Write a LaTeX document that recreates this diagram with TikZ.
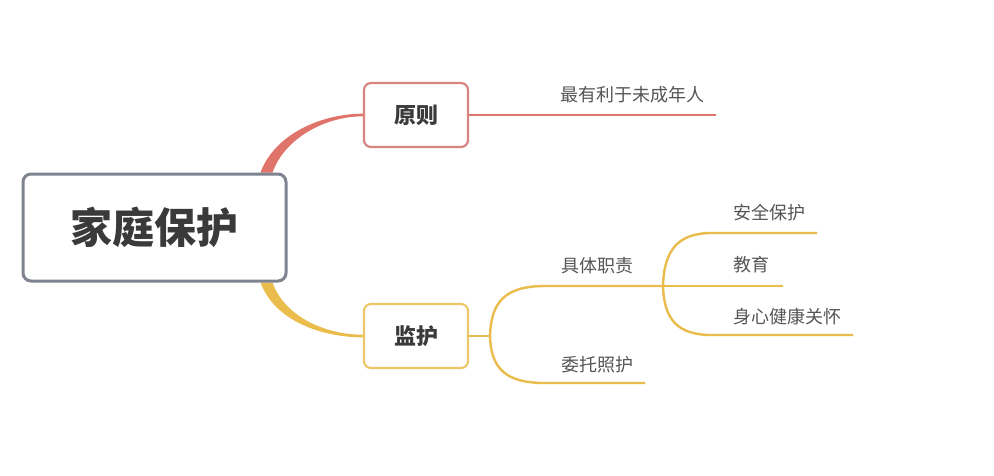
\documentclass[tikz,border=0pt]{standalone}
\usepackage{fontspec}
\setmainfont{Noto Sans CJK SC}
\definecolor{redc}{HTML}{E0736A}
\definecolor{redbox}{HTML}{D9857F}
\definecolor{yelc}{HTML}{E9BC4C}
\definecolor{yelbox}{HTML}{EBC769}
\definecolor{grayc}{HTML}{7E838F}
\definecolor{txtdark}{HTML}{3A3A3A}
\definecolor{txtleaf}{HTML}{555555}
\pgfdeclarelayer{bg}
\pgfsetlayers{bg,main}
\tikzset{
  rootbox/.style={draw=grayc, line width=3pt, rounded corners=8pt, fill=white,
    minimum width=263pt, minimum height=107pt, inner sep=0pt,
    font=\fontsize{42}{46}\selectfont\bfseries, text=txtdark},
  catbox/.style={draw=#1, line width=2.2pt, rounded corners=7pt, fill=white,
    minimum width=104pt, minimum height=64pt, inner sep=0pt,
    font=\fontsize{22}{26}\selectfont\bfseries, text=txtdark},
  leaftxt/.style={font=\fontsize{18}{21}\selectfont, text=txtleaf, inner sep=0pt},
  redline/.style={draw=redc, line width=2.2pt},
  yelline/.style={draw=yelc, line width=2.4pt},
}
\begin{document}
\begin{tikzpicture}[x=1pt,y=-1pt]
\useasboundingbox (0,0) rectangle (994,475);

\node[rootbox] (root) at (154.5,227.5) {家庭保护};
\node[catbox=redbox] (yz) at (416,115) {原则};
\node[catbox=yelbox] (jh) at (416,336) {监护};

% fork / end coordinates
\coordinate (e0) at (716,115);
\coordinate (f1) at (490,336);
\coordinate (f2) at (663,286);
\coordinate (a1) at (545,286);
\coordinate (a2) at (545,383);
\coordinate (e2) at (645,383);
\coordinate (b1) at (712,233);
\coordinate (b3) at (712,335);
\coordinate (e31) at (817,233);
\coordinate (e32) at (783,286);
\coordinate (e33) at (853,335);

% red branch
\draw[redline] (yz.east) -- (e0);
\node[leaftxt, anchor=center] (t0) at (632,95) {最有利于未成年人};

% yellow branches
\draw[yelline] (jh.east) -- (f1);
\draw[yelline] (f1) .. controls (491,302) and (505,286) .. (a1) -- (f2);
\draw[yelline] (f1) .. controls (491,368) and (505,383) .. (a2) -- (e2);
\draw[yelline] (f2) .. controls (664,250) and (678,233) .. (b1) -- (e31);
\draw[yelline] (f2) -- (e32);
\draw[yelline] (f2) .. controls (664,320) and (678,335) .. (b3) -- (e33);

\node[leaftxt] (t1) at (597,266) {具体职责};
\node[leaftxt] (t2) at (597,365) {委托照护};
\node[leaftxt, anchor=west] (t3) at (733,213) {安全保护};
\node[leaftxt, anchor=west] (t4) at (733,265) {教育};
\node[leaftxt, anchor=west] (t5) at (733,317) {身心健康关怀};

% tapered connectors from root, behind the boxes
\begin{pgfonlayer}{bg}
\fill[white] (0,0) rectangle (994,475);
\fill[redc] ([xshift=-27pt]root.north east) .. controls +(14,-38) and +(-42,0) .. ([yshift=1.3pt]yz.west)
  -- ([yshift=-1.3pt]yz.west) .. controls +(-38,0) and +(12,-34) .. ([xshift=-15pt]root.north east) -- cycle;
\fill[yelc] ([xshift=-27pt]root.south east) .. controls +(14,38) and +(-42,0) .. ([yshift=-1.3pt]jh.west)
  -- ([yshift=1.3pt]jh.west) .. controls +(-38,0) and +(12,34) .. ([xshift=-15pt]root.south east) -- cycle;
\end{pgfonlayer}
\end{tikzpicture}
\end{document}
